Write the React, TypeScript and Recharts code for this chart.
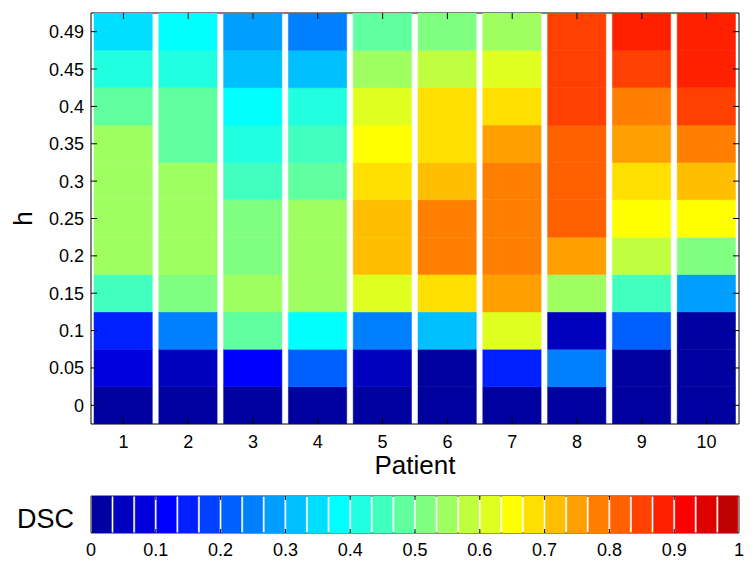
import React from 'react';
import { BarChart, Bar, XAxis, YAxis, Cell, ReferenceLine, ReferenceArea } from 'recharts';

const FONT = '"Liberation Sans", Arial, Helvetica, sans-serif';

// Categories
const patientIds = [1, 2, 3, 4, 5, 6, 7, 8, 9, 10];
const hLabels = ['0', '0.05', '0.1', '0.15', '0.2', '0.25', '0.3', '0.35', '0.4', '0.45', '0.49'];

// DSC values for each h (patients 1..10)
const dscH000 = [0, 0, 0, 0, 0, 0, 0, 0, 0, 0];
const dscH005 = [0.08, 0.05, 0.12, 0.22, 0.05, 0.02, 0.15, 0.25, 0.02, 0.02];
const dscH010 = [0.15, 0.25, 0.48, 0.38, 0.25, 0.32, 0.62, 0.05, 0.22, 0.02];
const dscH015 = [0.45, 0.52, 0.55, 0.55, 0.62, 0.68, 0.75, 0.55, 0.45, 0.28];
const dscH020 = [0.55, 0.55, 0.52, 0.55, 0.72, 0.78, 0.78, 0.75, 0.58, 0.52];
const dscH025 = [0.55, 0.55, 0.52, 0.55, 0.72, 0.78, 0.78, 0.82, 0.65, 0.65];
const dscH030 = [0.55, 0.55, 0.45, 0.48, 0.68, 0.72, 0.78, 0.82, 0.68, 0.72];
const dscH035 = [0.55, 0.48, 0.42, 0.45, 0.65, 0.68, 0.75, 0.82, 0.75, 0.78];
const dscH040 = [0.48, 0.48, 0.38, 0.42, 0.62, 0.68, 0.68, 0.85, 0.78, 0.85];
const dscH045 = [0.42, 0.42, 0.32, 0.32, 0.55, 0.58, 0.62, 0.85, 0.85, 0.88];
const dscH049 = [0.35, 0.38, 0.28, 0.25, 0.48, 0.52, 0.55, 0.85, 0.88, 0.88];

const dscRows = [dscH000, dscH005, dscH010, dscH015, dscH020, dscH025, dscH030, dscH035, dscH040, dscH045, dscH049];

// Colorbar ticks
const colorbarTicks = [0, 0.1, 0.2, 0.3, 0.4, 0.5, 0.6, 0.7, 0.8, 0.9, 1];
const colorbarTickLabels = ['0', '0.1', '0.2', '0.3', '0.4', '0.5', '0.6', '0.7', '0.8', '0.9', '1'];
const nColors = 30;

// MATLAB jet colormap
function jetColormap(m: number): string[] {
  const n = Math.ceil(m / 4);
  const u: number[] = [];
  for (let i = 1; i <= n; i++) u.push(i / n);
  for (let i = 1; i < n; i++) u.push(1);
  for (let i = n; i >= 1; i--) u.push(i / n);
  const gStart = Math.ceil(n / 2) - (m % 4 === 1 ? 1 : 0);
  const rgb = Array.from({ length: m }, () => [0, 0, 0]);
  u.forEach((val, k) => {
    const g = gStart + k + 1;
    const r = g + n;
    const b = g - n;
    if (r >= 1 && r <= m) rgb[r - 1][0] = val;
    if (g >= 1 && g <= m) rgb[g - 1][1] = val;
    if (b >= 1 && b <= m) rgb[b - 1][2] = val;
  });
  return rgb.map((c) => '#' + c.map((v) => Math.round(v * 255).toString(16).padStart(2, '0')).join(''));
}

const jet = jetColormap(nColors);
const colorFor = (v: number) => jet[Math.min(nColors - 1, Math.max(0, Math.floor(v * nColors)))];

const rowKeys = dscRows.map((_, j) => `r${j}`);
const heatData = patientIds.map((p) => {
  const o: any = { pid: p };
  rowKeys.forEach((k) => (o[k] = 1));
  return o;
});
const rowTicks = hLabels.map((_, j) => j + 0.5);

const cbData = jet.map((_, k) => ({ v: (k + 0.5) / nColors, h: 1 }));

// Plot geometry
const HEAT_W = 648;
const HEAT_H = 411;
const CB_W = 648;
const CB_H = 37;
const TICK_PX = 6;
const CB_TICK_PX = 4;
const nP = patientIds.length;
const nH = hLabels.length;
const xMin = 0.5;
const xMax = nP + 0.5;
const tickDy = (TICK_PX / HEAT_H) * nH;
const tickDx = (TICK_PX / HEAT_W) * nP;
const cbTickDy = CB_TICK_PX / CB_H;

// ---- text ticks ----
const LeftLabel = (props: any) => {
  const { x, y, payload } = props;
  const idx = Math.round(payload.value - 0.5);
  return (
    <text x={x - 7} y={y} dy="0.36em" textAnchor="end" fontSize={18} fontFamily={FONT} fill="#000">
      {hLabels[idx]}
    </text>
  );
};
const BottomLabel = (props: any) => {
  const { x, y, payload } = props;
  return (
    <text x={x} y={y + 24} textAnchor="middle" fontSize={18} fontFamily={FONT} fill="#000">
      {String(payload.value)}
    </text>
  );
};
const CbLabel = (props: any) => {
  const { x, y, payload, index } = props;
  return (
    <text x={x} y={y + 23} textAnchor="middle" fontSize={18} fontFamily={FONT} fill="#000">
      {colorbarTickLabels[index] ?? String(payload.value)}
    </text>
  );
};

const PatientLabel = (props: any) => {
  const vb = props.viewBox || {};
  return (
    <text x={vb.x + vb.width / 2} y={vb.y + 50} textAnchor="middle" fontSize={26} fontFamily={FONT} fill="#000">
      Patient
    </text>
  );
};

const HLabel = (props: any) => {
  const vb = props.viewBox || {};
  const cx = vb.x + 32;
  const cy = vb.y + vb.height / 2;
  return (
    <text x={cx} y={cy} textAnchor="middle" fontSize={26} fontFamily={FONT} fill="#000" transform={`rotate(-90, ${cx}, ${cy})`}>
      h
    </text>
  );
};

const heatMargin = { top: 13, right: 15, bottom: 0, left: 0 };
const cbMargin = { top: 16, right: 15, bottom: 0, left: 91 };
const tickStroke = { stroke: '#000', strokeWidth: 1, ifOverflow: 'visible' as const };

export default function App() {
  return (
    <div style={{ position: 'absolute', left: 0, top: 0, width: 754, height: 568, background: '#fff', fontFamily: FONT }}>
      <div style={{ position: 'absolute', left: 0, top: 0 }}>
        <BarChart width={754} height={480} data={heatData} margin={heatMargin} barCategoryGap={0} barGap={0} barSize={HEAT_W / nP}>
          <XAxis
            xAxisId="b"
            dataKey="pid"
            type="number"
            domain={[xMin, xMax]}
            ticks={patientIds}
            orientation="bottom"
            height={56}
            tickSize={0}
            tickMargin={0}
            tickLine={false}
            axisLine={false}
            interval={0}
            allowDataOverflow
            tick={<BottomLabel />}
            label={{ content: <PatientLabel /> }}
          />
          <YAxis
            yAxisId="l"
            type="number"
            domain={[0, nH]}
            ticks={rowTicks}
            orientation="left"
            width={91}
            tickSize={0}
            tickMargin={0}
            tickLine={false}
            axisLine={false}
            interval={0}
            allowDataOverflow
            tick={<LeftLabel />}
            label={{ content: <HLabel /> }}
          />
          {rowKeys.map((k, j) => (
            <Bar key={k} dataKey={k} stackId="h" isAnimationActive={false} xAxisId="b" yAxisId="l">
              {patientIds.map((p, i) => {
                const c = colorFor(dscRows[j][i]);
                return <Cell key={p} fill={c} stroke={c} strokeWidth={0.5} />;
              })}
            </Bar>
          ))}
          {patientIds.map((p) => (
            <ReferenceLine key={`tb${p}`} xAxisId="b" yAxisId="l" segment={[{ x: p, y: 0 }, { x: p, y: tickDy }]} {...tickStroke} />
          ))}
          {patientIds.map((p) => (
            <ReferenceLine key={`tt${p}`} xAxisId="b" yAxisId="l" segment={[{ x: p, y: nH }, { x: p, y: nH - tickDy }]} {...tickStroke} />
          ))}
          {rowTicks.map((t) => (
            <ReferenceLine key={`tl${t}`} xAxisId="b" yAxisId="l" segment={[{ x: xMin, y: t }, { x: xMin + tickDx, y: t }]} {...tickStroke} />
          ))}
          {rowTicks.map((t) => (
            <ReferenceLine key={`tr${t}`} xAxisId="b" yAxisId="l" segment={[{ x: xMax, y: t }, { x: xMax - tickDx, y: t }]} {...tickStroke} />
          ))}
          <ReferenceArea xAxisId="b" yAxisId="l" x1={xMin} x2={xMax} y1={0} y2={nH} fill="none" fillOpacity={0} stroke="#000" strokeWidth={1} ifOverflow="visible" />
        </BarChart>
      </div>
      <svg style={{ position: 'absolute', left: 0, top: 480 }} width={91} height={88}>
        <text x={17} y={48} fontSize={27} fontFamily={FONT} fill="#000">DSC</text>
      </svg>
      <div style={{ position: 'absolute', left: 0, top: 480 }}>
        <BarChart width={754} height={88} data={cbData} margin={cbMargin} barCategoryGap={0} barGap={0} barSize={CB_W / nColors}>
          <YAxis yAxisId="y" type="number" domain={[0, 1]} width={0} tick={false} tickLine={false} axisLine={false} allowDataOverflow />
          <XAxis
            xAxisId="b"
            dataKey="v"
            type="number"
            domain={[0, 1]}
            ticks={colorbarTicks}
            orientation="bottom"
            height={35}
            tickSize={0}
            tickMargin={0}
            tickLine={false}
            axisLine={false}
            interval={0}
            allowDataOverflow
            tick={<CbLabel />}
          />
          <Bar dataKey="h" isAnimationActive={false} xAxisId="b" yAxisId="y">
            {cbData.map((_, c) => (
              <Cell key={c} fill={jet[c]} stroke={jet[c]} strokeWidth={0.5} />
            ))}
          </Bar>
          {colorbarTicks.slice(1, -1).map((t) => (
            <ReferenceLine key={`cb${t}`} xAxisId="b" yAxisId="y" segment={[{ x: t, y: 0 }, { x: t, y: cbTickDy }]} {...tickStroke} />
          ))}
          {colorbarTicks.slice(1, -1).map((t) => (
            <ReferenceLine key={`ct${t}`} xAxisId="b" yAxisId="y" segment={[{ x: t, y: 1 }, { x: t, y: 1 - cbTickDy }]} {...tickStroke} />
          ))}
          <ReferenceArea xAxisId="b" yAxisId="y" x1={0} x2={1} y1={0} y2={1} fill="none" fillOpacity={0} stroke="#222" strokeWidth={1} ifOverflow="visible" />
        </BarChart>
      </div>
    </div>
  );
}
